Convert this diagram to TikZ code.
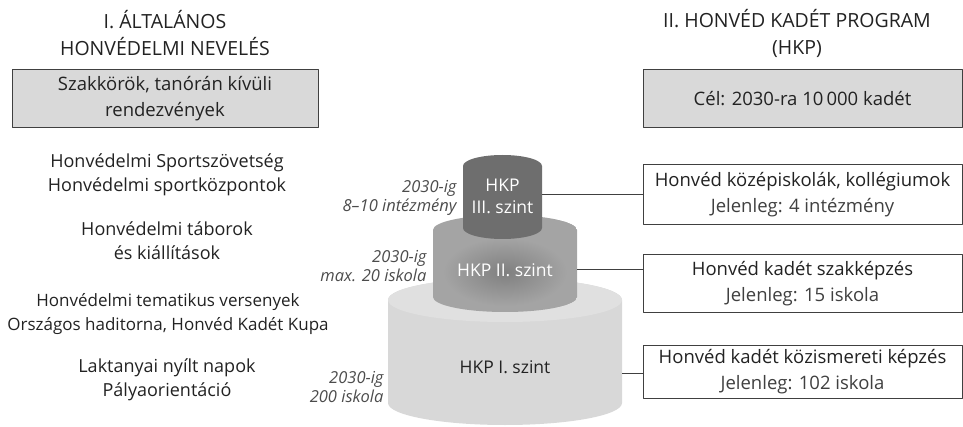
\documentclass[tikz,border=0pt]{standalone}
\usepackage{fontspec}
\setmainfont{Open Sans}
\usepackage{tikz}
\usetikzlibrary{positioning}
\definecolor{inkgray}{HTML}{222222}
\definecolor{boxgray}{HTML}{D9D9D9}
\definecolor{cylone}{HTML}{D8D8D8}
\definecolor{cyltwo}{HTML}{A4A4A4}
\definecolor{cylthree}{HTML}{6E6E6E}
\tikzset{%
	every label text/.style={
		text=inkgray,
		align=center,
		font=\fontsize{18}{24}\selectfont
	},
	goal box/.style={
		draw=black!75,
		fill=boxgray,
		line width=1pt,
		align=center,
		text=inkgray,
		font=\fontsize{18.5}{26}\selectfont
	},
	level box/.style={
		draw=black!75,
		fill=white,
		line width=1pt,
		minimum width=319pt,
		inner xsep=2pt,
		align=center,
		text=inkgray,
		font=\fontsize{18.5}{26}\selectfont
	},
	target text/.style={
		anchor=east,
		align=right,
		text=black!70,
		font=\itshape\fontsize{16.5}{19}\selectfont
	},
}
% one cylinder: centre x, top y, bottom y, x radius, y radius
\newcommand{\hkpbody}[5]{(#1-#4,#2) -- (#1-#4,#3) arc (180:0:#4 and #5) -- (#1+#4,#2) arc (360:180:#4 and #5) -- cycle}

\begin{document}
\begin{tikzpicture}[
			x=1pt, y=-1pt,
			line join=round
			]
			\useasboundingbox (0,0) rectangle (963,427);
			
			% Headings
			\node[every label text, font=\fontsize{19.5}{27}\selectfont] (title1) at (165,33) {I. ÁLTALÁNOS\\HONVÉDELMI NEVELÉS};
			\node[every label text, font=\fontsize{19.5}{27}\selectfont] (title2) at (797,33) {II. HONVÉD KADÉT PROGRAM\\(HKP)};
			\node[goal box, minimum width=306pt, minimum height=58pt] (goal1) at (165,99) {Szakkörök, tanórán kívüli\\rendezvények};
			\node[goal box, minimum width=319pt, minimum height=58pt] (goal2) at (802.5,99) {Cél: 2030-ra 10\,000 kadét};
			
			% General education items
			\node[every label text] (sport) at (167,175) {Honvédelmi Sportszövetség\\Honvédelmi sportközpontok};
			\node[every label text] (camp) at (167,240.5) {Honvédelmi táborok\\és kiállítások};
			\node[every label text, font=\fontsize{17}{24}\selectfont] (contest) at (168,314) {Honvédelmi tematikus versenyek\\Országos haditorna, Honvéd Kadét Kupa};
			\node[every label text] (openday) at (167,380) {Laktanyai nyílt napok\\Pályaorientáció};
			
			% Cylinders of the three levels
			\fill[cylone] \hkpbody{505}{300}{403}{117}{22};
			\fill[cylone!80!white] (505,300) ellipse (117 and 22);
			\begin{scope}
				\clip \hkpbody{505}{230}{297}{72}{15};
				\fill[cyltwo] \hkpbody{505}{230}{297}{72}{15};
				\shade[inner color=black!50, outer color=cyltwo] (505,272) ellipse (62 and 34);
			\end{scope}
			\fill[cylthree] \hkpbody{502.5}{166}{228}{39.5}{11};
			\coordinate (c3) at (542,195);
			\coordinate (c2) at (577,270);
			\coordinate (c1) at (622,373);
			\node[text=white, align=center, font=\fontsize{17.5}{22}\selectfont] (lvl3) at (502.5,196) {HKP\\III. szint};
			\node[text=white, font=\fontsize{17.5}{22}\selectfont] (lvl2) at (505,270) {HKP II. szint};
			\node[text=inkgray, font=\fontsize{17.5}{22}\selectfont] (lvl1) at (505,367) {HKP I. szint};
			
			% Targets
			\node[target text] (aim3) at (460,198) {2030-ig\\8--10 intézmény};
			\node[target text] (aim2) at (430,266) {2030-ig\\max. 20 iskola};
			\node[target text] (aim1) at (387,387) {2030-ig\\200 iskola};
			
			% Current state boxes
			\node[level box, minimum height=60pt] (box3) at (802.5,195) {Honvéd középiskolák, kollégiumok\\{\color{black!75}Jelenleg: 4 intézmény}};
			\node[level box, minimum height=58pt] (box2) at (802.5,284) {Honvéd kadét szakképzés\\{\color{black!75}Jelenleg: 15 iskola}};
			\node[level box, minimum height=53pt] (box1) at (802.5,371.5) {Honvéd kadét közismereti képzés\\{\color{black!75}Jelenleg: 102 iskola}};
			
			\draw[black!75, line width=1pt] (c3) -- (c3 -| box3.west);
			\draw[black!75, line width=1pt] (c2) -- (c2 -| box2.west);
			\draw[black!75, line width=1pt] (c1) -- (c1 -| box1.west);
			
		\end{tikzpicture}
\end{document}
